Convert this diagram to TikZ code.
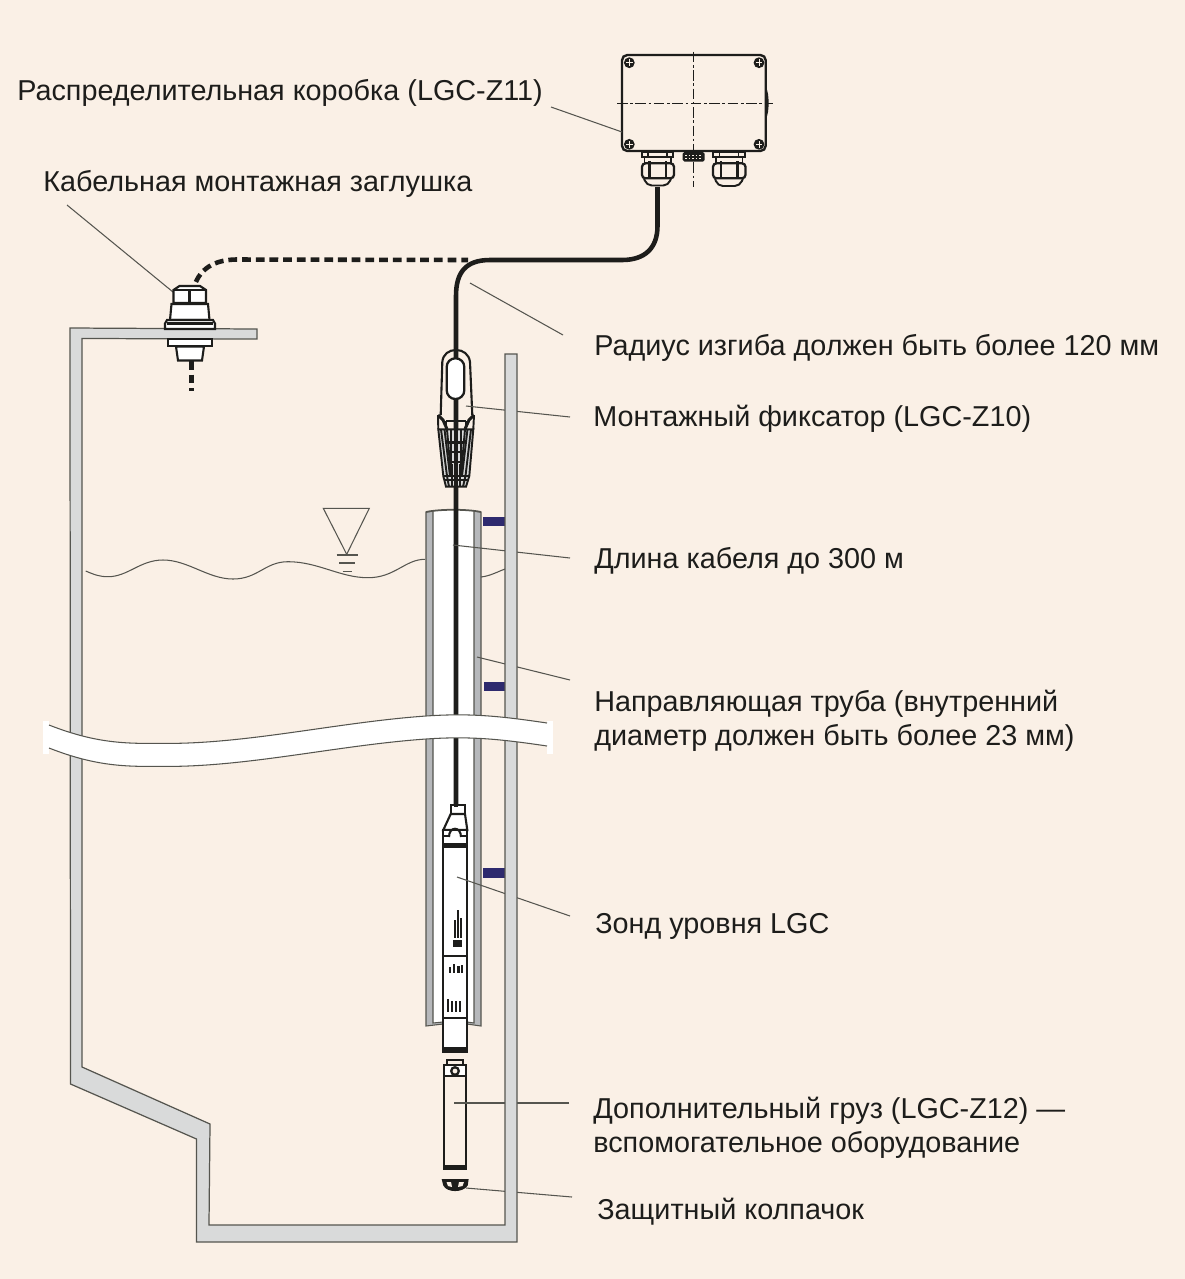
\documentclass[tikz,border=0pt]{standalone}
\usepackage{fontspec}
\setmainfont{Liberation Sans}
\definecolor{pagebg}{HTML}{FAF0E6}
\definecolor{wallgray}{HTML}{D9DADA}
\definecolor{pipegray}{HTML}{B6B8BB}
\definecolor{inkdark}{HTML}{1D1D1B}
\definecolor{linegray}{HTML}{55554F}
\definecolor{clipblue}{HTML}{2E2A6E}
\tikzset{
  labeltext/.style={anchor=base west, inner sep=0pt, align=left, text=inkdark, font=\fontsize{16.38}{19.3}\selectfont},
  leader/.style={draw=linegray, line width=0.6pt},
  wallline/.style={draw=linegray, line width=0.7pt, fill=wallgray},
  cable/.style={draw=inkdark, line width=2.6pt},
  cabledash/.style={draw=inkdark, line width=2.6pt, dash pattern=on 5pt off 2.8pt},
  partline/.style={draw=inkdark, line width=1.1pt},
  partfill/.style={draw=inkdark, line width=1.1pt, fill=white},
  inkfill/.style={fill=inkdark},
  axisline/.style={draw=inkdark, line width=0.55pt, dash pattern=on 6pt off 1.5pt on 1.5pt off 1.5pt},
}
\begin{document}
\begin{tikzpicture}[x=0.02cm, y=-0.02cm]

\useasboundingbox (0,0) rectangle (1185,1279);
\fill[pagebg] (0,0) rectangle (1185,1279);

% labels
\node[labeltext] (boxlabel) at (17,100) {Распределительная коробка (LGC-Z11)};
\node[labeltext] (pluglabel) at (43,191) {Кабельная монтажная заглушка};
\node[labeltext] (radiuslabel) at (594,355) {Радиус изгиба должен быть более 120 мм};
\node[labeltext] (clamplabel) at (593,426) {Монтажный фиксатор (LGC-Z10)};
\node[labeltext] (lengthlabel) at (594,568) {Длина кабеля до 300 м};
\node[labeltext] (pipelabel) at (594,745) {Направляющая труба (внутренний\\диаметр должен быть более 23 мм)};
\node[labeltext] (probelabel) at (595,933) {Зонд уровня LGC};
\node[labeltext] (weightlabel) at (593,1152) {Дополнительный груз (LGC-Z12) ---\\вспомогательное оборудование};
\node[labeltext] (caplabel) at (597,1219) {Защитный колпачок};

% guide pipe
\fill[white] (432,511) rectangle (475,1024);
\filldraw[draw=linegray, line width=0.6pt, fill=pipegray] (426,512) -- (433,511) -- (433,1023) -- (443,1022) -- (443,1024) -- (426,1026) -- cycle;
\filldraw[draw=linegray, line width=0.6pt, fill=pipegray] (481,512) -- (474,511) -- (474,1023) -- (467,1022) -- (467,1024) -- (481,1026) -- cycle;
\draw[draw=linegray, line width=1pt] (426,512) .. controls (440,509) and (467,509) .. (481,512);

% water line and level mark
\draw[leader] (85.7,571) .. controls (95,575) and (100,576.7) .. (108,576.7) .. controls (128,576.7) and (140,560) .. (163,560) .. controls (188,560) and (208,579) .. (233,579) .. controls (258,579) and (265,561.7) .. (288,561.7) .. controls (318,561.7) and (340,577.7) .. (368,577.7) .. controls (395,577.7) and (405,559.3) .. (425,559.3);
\draw[leader] (481,577) .. controls (490,576) and (497,572) .. (505,569);
\draw[leader] (323.3,508.3) -- (369.3,508.3) -- (346.7,554.3) -- cycle;
\draw[leader] (336.7,555) -- (357.7,555);
\draw[leader] (339,563) -- (355,563);
\draw[leader] (342.7,571.3) -- (352,571.3);

% cable
\draw[cable] (657.5,187) -- (657.5,226) .. controls (657.5,248) and (645,260) .. (622,260) -- (490,260) .. controls (466,260) and (456,272) .. (456,296) -- (456,806);
\draw[cabledash] (192,295) .. controls (196,272) and (210,260) .. (236,259.5) -- (468,260);
\draw[cabledash] (191.5,361) -- (191.5,391);

% junction box
\draw[partline, line width=1.35pt, rounded corners=3pt] (622,55) rectangle (765.7,151);
\draw[axisline] (693.7,51.7) -- (693.7,186.7);
\draw[axisline] (617,103) -- (773,103);
\fill[inkfill] (766,88) .. controls (769.5,92) and (769.5,114) .. (766,118) -- cycle;
\fill[inkfill] (629.3,62.7) circle (5.4);
\fill[inkfill] (759,62.7) circle (5.4);
\fill[inkfill] (629.3,144.3) circle (5.4);
\fill[inkfill] (759,144.3) circle (5.4);
\draw[pagebg, line width=0.3pt] (626,62.7) -- (632.6,62.7) (629.3,59.4) -- (629.3,66);
\draw[pagebg, line width=0.3pt] (755.7,62.7) -- (762.3,62.7) (759,59.4) -- (759,66);
\draw[pagebg, line width=0.3pt] (626,144.3) -- (632.6,144.3) (629.3,141) -- (629.3,147.6);
\draw[pagebg, line width=0.3pt] (755.7,144.3) -- (762.3,144.3) (759,141) -- (759,147.6);
\fill[inkfill, rounded corners=1pt] (682.7,152) rectangle (704.7,161.7);
\draw[pagebg, line width=0.4pt, dash pattern=on 1pt off 1pt] (685,155) -- (702,155);
\draw[pagebg, line width=0.4pt, dash pattern=on 1pt off 1pt] (685,158.5) -- (702,158.5);

% left cable gland
\draw[partline] (641.7,151.7) rectangle (673.3,156.7);
\draw[partline] (648,151.7) -- (648,156.7) (667,151.7) -- (667,156.7);
\draw[partline] (644.5,156.7) -- (644.5,163.3) (670.7,156.7) -- (670.7,163.3);
\draw[partline, line width=1.3pt, rounded corners=2pt] (642,178.3) -- (642,163.3) -- (674,163.3) -- (674,178.3) -- cycle;
\draw[partline, line width=1.6pt] (649.5,161) -- (649.5,178.3) (666,161) -- (666,178.3);
\draw[partline, rounded corners=3pt] (644,178.3) -- (646.5,185.5) -- (668.5,185.5) -- (671,178.3);
% right cable gland
\draw[partline] (713.3,151.7) rectangle (745,156.7);
\draw[partline] (719.5,151.7) -- (719.5,156.7) (738.5,151.7) -- (738.5,156.7);
\draw[partline] (716,156.7) -- (716,163.3) (742.5,156.7) -- (742.5,163.3);
\draw[partline, line width=1.3pt, rounded corners=2pt] (713,178.3) -- (713,163.3) -- (745.5,163.3) -- (745.5,178.3) -- cycle;
\draw[partline, line width=1.6pt] (721,161) -- (721,178.3) (737.5,161) -- (737.5,178.3);
\draw[partline, rounded corners=3pt] (715,178.3) -- (717.5,186) -- (740,186) -- (743,178.3);

% mounting clamp
\draw[partline, line width=1.2pt] (440.7,415) -- (442.3,362) .. controls (443,354) and (449,350) .. (456,350) .. controls (463,350) and (469,354) .. (470,362) -- (472.3,415);
\filldraw[partfill, line width=1.3pt, rounded corners=4.9pt] (446.7,358.3) rectangle (464.3,399);
\filldraw[draw=inkdark, line width=1.1pt, fill=wallgray] (438.3,429.3) -- (473.3,429.3) -- (469.3,476) -- (466,486.7) -- (446,486.7) -- (443.3,476) -- cycle;
\draw[partline, line width=1.7pt] (438,415) -- (443,420) -- (447,429) (474,415) -- (469,420) -- (465,429);
\draw[partline] (438,415) -- (438.3,429.3) (474,415) -- (473.3,429.3);
\draw[partline] (446,421) -- (466,421) (446,421) -- (446,429) (466,421) -- (466,429);
\draw[partline] (441,429.3) -- (447,476) -- (449,486.7) (444.5,429.3) -- (450,476) (471,429.3) -- (465.5,476) -- (463,486.7) (467.5,429.3) -- (462,476);
\draw[partline] (447,429.3) -- (451,476) (465,429.3) -- (461,476);
\draw[partline] (449,442) -- (463,442) (449,443.5) -- (463,443.5) (449,452) -- (463,452) (450,462) -- (462,462) (443.3,476) -- (469.3,476) (444.5,480) -- (467.5,480);
\draw[partline] (451,429) -- (451,476) (461,429) -- (461,476);
\draw[partline, line width=1.6pt] (452,464) -- (452,486) (460,464) -- (460,486);
\draw[cable] (456,400) -- (456,490);

% level probe
\filldraw[partfill] (450.7,805) rectangle (465,814);
\filldraw[partfill, line width=1.2pt] (450.7,814) -- (465,814) -- (467.3,830) -- (443.3,830) -- cycle;
\filldraw[partfill, line width=1.2pt] (443.3,830) rectangle (467.3,1051.7);
\draw[partline, line width=1.2pt] (449,837) .. controls (449,826) and (461,826) .. (461,837);
\draw[partline] (443.3,836) -- (449,836) (461,836) -- (467.3,836);
\fill[inkfill] (443.3,843) rectangle (467.3,847.5);
\draw[partline] (443.3,955.7) -- (467.3,955.7);
\draw[partline] (443.3,1018.3) -- (467.3,1018.3);
\fill[inkfill] (443.3,1047.3) rectangle (467.3,1051.7);
\draw[cable] (456,800) -- (456,807);
% print on the probe
\fill[inkfill] (452.5,940) rectangle (461.5,947);
\fill[inkfill] (453.5,920) rectangle (456,938);
\fill[inkfill] (457,910) rectangle (459,938);
\fill[inkfill] (459.5,918) rectangle (461.5,938);
\fill[inkfill] (449,967) rectangle (451,973);
\fill[inkfill] (452.5,964) rectangle (455,973);
\fill[inkfill] (457,966) rectangle (459.5,973);
\fill[inkfill] (461,965) rectangle (462.5,973);
\fill[inkfill] (447,999) rectangle (449,1012);
\fill[inkfill] (451,1001) rectangle (453,1012);
\fill[inkfill] (455,1001) rectangle (457,1012);
\fill[inkfill] (459,1001) rectangle (461,1012);

% additional weight
\draw[partline, line width=1.3pt] (447.3,1064) -- (447.3,1060) -- (462.7,1060) -- (462.7,1064);
\filldraw[partfill, line width=1.3pt] (444,1065) rectangle (466,1076);
\draw[partline, line width=1.3pt, fill=pagebg] (455,1071) circle (3.8);
\draw[partline, line width=1.3pt] (444,1076) -- (444,1169) (466,1076) -- (466,1169);
\fill[inkfill] (443.3,1165) rectangle (466.7,1169.5);

% protective cap
\filldraw[draw=inkdark, line width=0.9pt, fill=inkdark] (442.7,1180) -- (467.7,1180) -- (467,1185) .. controls (463,1192) and (447,1192) .. (444,1185) -- cycle;
\fill[pagebg] (446.5,1182) -- (451,1182) -- (452,1187) -- (448,1186) -- cycle;
\fill[pagebg] (459,1182) -- (464,1182) -- (462.5,1186) -- (458,1187) -- cycle;

% leader lines
\coordinate (boxend) at (622,132);
\coordinate (boxstart) at (551,107);
\coordinate (plugend) at (173,292);
\coordinate (plugstart) at (67,205);
\coordinate (radiusend) at (470,283);
\coordinate (radiusstart) at (563,335);
\coordinate (clampend) at (466,406);
\coordinate (clampstart) at (570,417);
\coordinate (lengthend) at (453,545);
\coordinate (lengthstart) at (570,558);
\coordinate (pipeend) at (477,657);
\coordinate (pipestart) at (570,680);
\coordinate (probeend) at (457,877);
\coordinate (probestart) at (570,916);
\coordinate (weightend) at (454,1103);
\coordinate (weightstart) at (569,1103);
\coordinate (capend) at (466,1188);
\coordinate (capstart) at (572,1197);
\draw[leader] (boxstart) -- (boxend);
\draw[leader] (plugstart) -- (plugend);
\draw[leader] (radiusstart) -- (radiusend);
\draw[leader] (clampstart) -- (clampend);
\draw[leader] (lengthstart) -- (lengthend);
\draw[leader] (pipestart) -- (pipeend);
\draw[leader] (probestart) -- (probeend);
\draw[leader] (weightstart) -- (weightend);
\draw[leader] (capstart) -- (capend);

% spacers on the shaft wall
\fill[clipblue] (482.5,517) rectangle (505,526);
\fill[clipblue] (484,681.5) rectangle (505,691);
\fill[clipblue] (482.5,868) rectangle (505,878);

% shaft wall
\filldraw[wallline] (70,328) -- (257,329) -- (257,339) -- (82,338.5) -- (82,1067) -- (210,1124) -- (209,1225) -- (505,1225) -- (505,354) -- (517,354) -- (517,1242) -- (196.5,1242) -- (196.5,1139) -- (70.5,1084) -- cycle;

% mounting plug on the plate
\filldraw[partfill, line width=1.2pt] (173.5,290) -- (179.5,286) -- (200,286) -- (206,290) -- (206,303) -- (173.5,303) -- cycle;
\draw[partline, line width=1.4pt] (173.5,290) -- (206,290);
\draw[partline, line width=1.8pt] (189.5,290) -- (189.5,303);
\filldraw[partfill, line width=1.2pt] (171.5,304) -- (208,304) -- (209.5,320) -- (170,320) -- cycle;
\filldraw[partfill, line width=1.2pt] (165,323.5) -- (167,320) -- (213,320) -- (215,323.5) -- (215,329) -- (165,329) -- cycle;
\draw[partline, line width=1.4pt] (167,323.5) -- (213,323.5);
\filldraw[partfill, line width=1.2pt] (168,339) rectangle (212,346);
\filldraw[partfill, line width=1.2pt] (176,346.5) -- (204,346.5) -- (202,360.5) -- (178,360.5) -- cycle;

% break band
\fill[white] (43,721) rectangle (49,754);
\fill[white] (547,721) rectangle (553,754);
\fill[white] (49,725) .. controls (100,745) and (130,743.4) .. (168,743.4) .. controls (250,743.4) and (340,722) .. (426,716) .. controls (470,713) and (500,716) .. (547,723) -- (547,746) .. controls (500,739) and (470,736) .. (426,739) .. controls (340,745) and (250,766.4) .. (168,766.4) .. controls (130,766.4) and (100,768) .. (49,748) -- cycle;
\draw[leader] (49,725) .. controls (100,745) and (130,743.4) .. (168,743.4) .. controls (250,743.4) and (340,722) .. (426,716) .. controls (470,713) and (500,716) .. (547,723);
\draw[leader] (49,748) .. controls (100,768) and (130,766.4) .. (168,766.4) .. controls (250,766.4) and (340,745) .. (426,739) .. controls (470,736) and (500,739) .. (547,746);

\end{tikzpicture}
\end{document}
